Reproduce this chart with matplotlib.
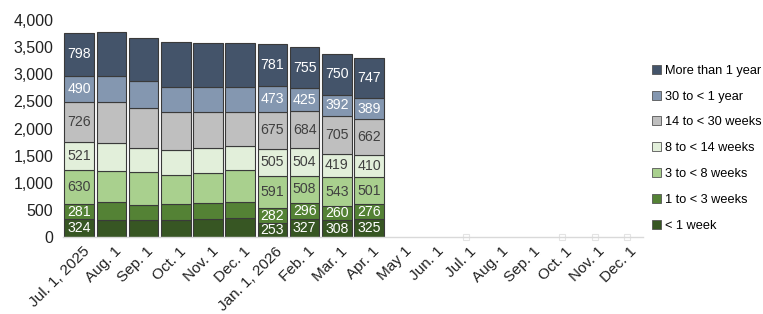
import matplotlib
matplotlib.use("Agg")
import matplotlib.pyplot as plt
import matplotlib.transforms as mtransforms
import numpy as np

categories = ["Jul. 1, 2025", "Aug. 1", "Sep. 1", "Oct. 1", "Nov. 1", "Dec. 1",
              "Jan. 1, 2026", "Feb. 1", "Mar. 1", "Apr. 1", "May 1", "Jun. 1",
              "Jul. 1", "Aug. 1 ", "Sep. 1 ", "Oct. 1 ", "Nov. 1 ", "Dec. 1 "]

series_names = ["< 1 week", "1 to < 3 weeks", "3 to < 8 weeks", "8 to < 14 weeks",
                "14 to < 30 weeks", "30 to < 1 year", "More than 1 year"]

lt1w   = [324, 319, 319, 319, 330, 360, 253, 327, 308, 325]
w1_3   = [281, 326, 264, 283, 300, 280, 282, 296, 260, 276]
w3_8   = [630, 565, 608, 547, 555, 590, 591, 508, 543, 501]
w8_14  = [521, 522, 455, 461, 460, 440, 505, 504, 419, 410]
w14_30 = [726, 756, 731, 694, 660, 640, 675, 684, 705, 662]
w30_1y = [490, 473, 492, 461, 465, 465, 473, 425, 392, 389]
gt1y   = [798, 817, 805, 829, 800, 800, 781, 755, 750, 747]

labeled_bars = [0, 6, 7, 8, 9]
placeholder_idx = [12, 15, 16, 17]
placeholder_vals = [0, 0, 0, 0]

colors = ["#375623", "#548235", "#A9D08E", "#E2EFDA", "#BFBFBF", "#8497B0", "#44546A"]
text_colors = ["white", "white", "#404040", "#404040", "#404040", "white", "white"]

plt.rcParams['font.family'] = ['Liberation Sans', 'DejaVu Sans']

fig = plt.figure(figsize=(7.63, 3.14), dpi=100)
ax = fig.add_axes([0.0826, 0.245, 0.760, 0.691])

data = [lt1w, w1_3, w3_8, w8_14, w14_30, w30_1y, gt1y]
n = len(lt1w)
x = np.arange(n)
bottom = np.zeros(n)
handles = []
for s, (vals, col, tc, name) in enumerate(zip(data, colors, text_colors, series_names)):
    vals = np.array(vals, dtype=float)
    b = ax.bar(x, vals, width=0.92, bottom=bottom, color=col, edgecolor="#3a3a3a",
               linewidth=0.8, label=name, zorder=2)
    handles.append(b)
    for i in labeled_bars:
        ax.text(x[i], bottom[i] + vals[i] / 2, f"{int(vals[i])}", ha="center", va="center",
                fontsize=10.2, color=tc, zorder=3)
    bottom += vals

ax.plot(placeholder_idx, placeholder_vals, linestyle="none", marker="s", markersize=4,
        markerfacecolor="none", markeredgecolor="#e4e4e4", markeredgewidth=0.8, zorder=1,
        clip_on=False)

ax.set_xlim(-0.5, len(categories) - 0.5)
ax.set_ylim(0, 4000)
ax.set_yticks(np.arange(0, 4001, 500))
ax.set_yticklabels([f"{v:,}" for v in range(0, 4001, 500)], fontsize=11.5, color="#222222")
ax.set_xticks(np.arange(len(categories)))
ax.set_xticklabels([c.strip() for c in categories], rotation=45, ha="right",
                   rotation_mode="anchor", fontsize=11, color="#222222")
ax.tick_params(axis="both", length=0)
ax.tick_params(axis="y", pad=7)
ax.tick_params(axis="x", pad=5)
offset = mtransforms.ScaledTranslation(3 / 100, 0, fig.dpi_scale_trans)
for lbl in ax.get_xticklabels():
    lbl.set_transform(lbl.get_transform() + offset)

for side in ["top", "right", "left"]:
    ax.spines[side].set_visible(False)
ax.spines["bottom"].set_color("#d9d9d9")
ax.spines["bottom"].set_linewidth(1.0)

leg = fig.legend(handles[::-1], series_names[::-1], loc="upper left",
                 bbox_to_anchor=(0.848, 0.81), frameon=False, fontsize=9.2,
                 handlelength=0.7, handleheight=0.7, handletextpad=0.3,
                 labelspacing=1.08, borderaxespad=0)
for h in leg.legend_handles:
    h.set_linewidth(0.6)
    h.set_edgecolor("#555555")

fig.savefig("out.png", dpi=100)
